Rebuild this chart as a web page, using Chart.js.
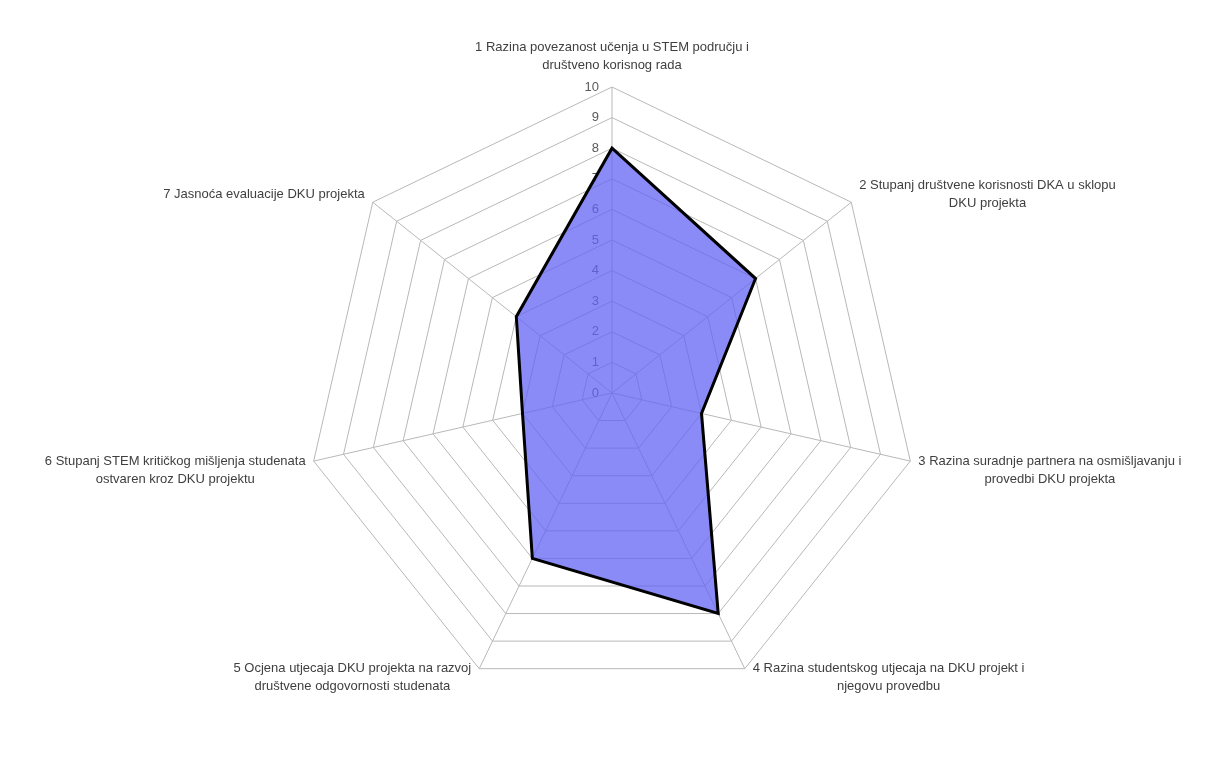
<!DOCTYPE html>
<html>
<head>
<meta charset="utf-8">
<script src="https://cdn.jsdelivr.net/npm/chart.js@4.4.1/dist/chart.umd.min.js"></script>
<style>
html, body { margin: 0; padding: 0; background: #fff; }
#wrap { width: 1216px; height: 771px; }
</style>
</head>
<body>
<div id="wrap"><canvas id="radar"></canvas></div>
<script>
var categories = [
    ['1 Razina povezanost učenja u STEM području i', 'društveno korisnog rada'],
    ['2 Stupanj društvene korisnosti DKA u sklopu', 'DKU projekta'],
    ['3 Razina suradnje partnera na osmišljavanju i', 'provedbi DKU projekta'],
    ['4 Razina studentskog utjecaja na DKU projekt i', 'njegovu provedbu'],
    ['5 Ocjena utjecaja DKU projekta na razvoj', 'društvene odgovornosti studenata'],
    ['6 Stupanj STEM kritičkog mišljenja studenata', 'ostvaren kroz DKU projektu'],
    ['7 Jasnoća evaluacije DKU projekta']
];
var scores = [8, 6, 3, 8, 6, 3, 4];
var scaleMin = 0, scaleMax = 10, scaleStep = 1;

var labelFont = '13px "Liberation Sans", Arial, sans-serif';

// tick labels and category labels drawn Excel style (left of axis, centred blocks)
var excelLabels = {
    id: 'excelLabels',
    beforeDatasetsDraw: function(chart) {
        var s = chart.scales.r, ctx = chart.ctx;
        ctx.save();
        ctx.font = labelFont;
        ctx.fillStyle = '#595959';
        ctx.textAlign = 'right';
        ctx.textBaseline = 'middle';
        s.ticks.forEach(function(t) {
            var y = s.yCenter - s.getDistanceFromCenterForValue(t.value);
            ctx.fillText(String(t.value), s.xCenter - 13, y);
        });
        ctx.restore();
    },
    afterDraw: function(chart) {
        var s = chart.scales.r, ctx = chart.ctx, lh = 18;
        ctx.save();
        ctx.font = labelFont;
        ctx.fillStyle = '#404040';
        ctx.textAlign = 'center';
        ctx.textBaseline = 'middle';
        categories.forEach(function(lines, i) {
            var p = s.getPointPositionForValue(i, scaleMax);
            var w = Math.max.apply(null, lines.map(function(l) { return ctx.measureText(l).width; }));
            var h = lines.length * lh;
            var dx = p.x - s.xCenter, dy = p.y - s.yCenter;
            var cx, cy;
            if (Math.abs(dx) < 1) {
                cx = p.x;
                cy = p.y - 13 - h / 2;
            } else {
                cx = dx > 0 ? p.x + 8 + w / 2 : p.x - 8 - w / 2;
                cy = p.y + (dy < 0 ? -8 : 9);
            }
            lines.forEach(function(l, k) {
                ctx.fillText(l, cx, cy - h / 2 + lh / 2 + k * lh);
            });
        });
        ctx.restore();
    }
};

new Chart(document.getElementById('radar'), {
    type: 'radar',
    data: {
        labels: categories,
        datasets: [{
            data: scores,
            backgroundColor: 'rgba(100,100,245,0.75)',
            borderColor: '#000',
            borderWidth: 3,
            borderJoinStyle: 'miter',
            pointRadius: 0,
            fill: true,
            tension: 0
        }]
    },
    options: {
        responsive: true,
        maintainAspectRatio: false,
        animation: false,
        layout: { padding: { top: 87, bottom: 72, left: 8, right: 0 } },
        plugins: { legend: { display: false }, tooltip: { enabled: false } },
        scales: {
            r: {
                min: scaleMin,
                max: scaleMax,
                ticks: { stepSize: scaleStep, display: false },
                pointLabels: { display: false },
                grid: { color: '#b8b8b8', lineWidth: 1 },
                angleLines: { color: '#b8b8b8', lineWidth: 1 }
            }
        }
    },
    plugins: [excelLabels]
});
</script>
</body>
</html>
